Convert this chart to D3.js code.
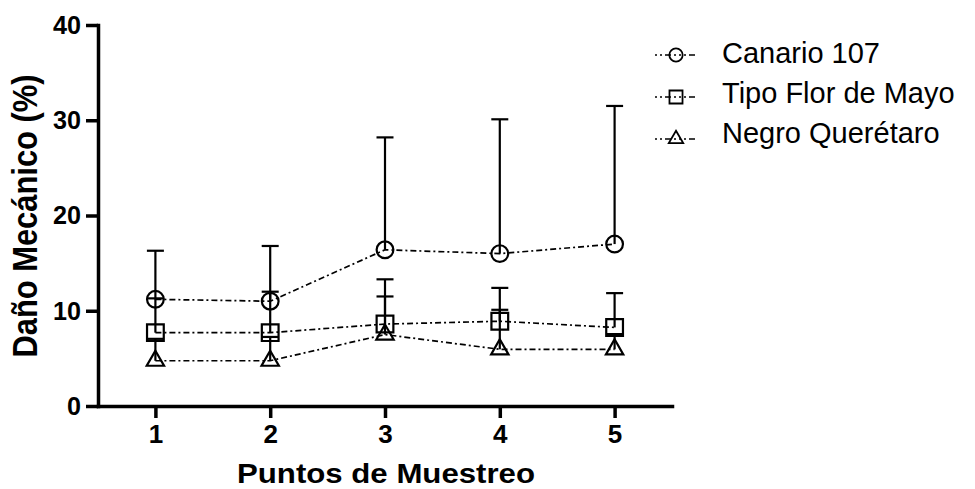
<!DOCTYPE html>
<html>
<head>
<meta charset="utf-8">
<script src="https://cdn.jsdelivr.net/npm/d3@7"></script>
<style>
  html, body { margin: 0; padding: 0; background: #fff; }
  svg { display: block; font-family: "Liberation Sans", Arial, sans-serif; }
</style>
</head>
<body>
<svg id="chart" width="975" height="489"></svg>
<script>
// ---- data ----
const points = [1, 2, 3, 4, 5];
const seriesNames = ["Canario 107", "Tipo Flor de Mayo", "Negro Querétaro"];
const canarioMean = [11.2, 11.0, 16.4, 16.0, 17.0];
const canarioErr  = [5.1, 5.8, 11.8, 14.1, 14.5];
const florMean    = [7.7, 7.7, 8.6, 8.9, 8.25];
const florErr     = [3.6, 4.3, 4.7, 3.5, 3.6];
const negroMean   = [4.75, 4.75, 7.5, 5.95, 5.95];
const negroErr    = [2.3, 2.5, 4.0, 4.15, 1.6];
const yTicks = [0, 10, 20, 30, 40];
const xTitle = "Puntos de Muestreo";
const yTitle = "Daño Mecánico (%)";

const series = [
  { name: seriesNames[0], mean: canarioMean, err: canarioErr, sym: d3.symbolCircle, size: 220, lsize: 140 },
  { name: seriesNames[1], mean: florMean, err: florErr, sym: d3.symbolSquare, size: 280, lsize: 170 },
  { name: seriesNames[2], mean: negroMean, err: negroErr, sym: d3.symbolTriangle, size: 130, lsize: 90 }
];

const svg = d3.select("#chart");
const x = d3.scaleLinear().domain([0.5, 5.5]).range([98, 672]);
const y = d3.scaleLinear().domain([0, 40]).range([406, 25]);

const dash = "6,3,2,3";

// ---- axes ----
const gy = svg.append("g").attr("transform", `translate(${x(0.5)},0)`)
  .call(d3.axisLeft(y).tickValues(yTicks).tickFormat(d3.format("d")).tickSize(12).tickSizeOuter(0).tickPadding(5));
const gx = svg.append("g").attr("transform", `translate(0,${y(0)})`)
  .call(d3.axisBottom(x).tickValues(points).tickFormat(d3.format("d")).tickSize(12).tickSizeOuter(0).tickPadding(7));
[gx, gy].forEach(g => {
  g.select(".domain").attr("stroke", "#000").attr("stroke-width", 3.5).attr("stroke-linecap", "square");
  g.selectAll(".tick line").attr("stroke", "#000").attr("stroke-width", 3.5);
  g.selectAll(".tick text").attr("fill", "#000").attr("font-size", 26).attr("font-weight", "bold")
    .attr("font-family", "'Liberation Sans', Arial, sans-serif");
});
gy.selectAll(".tick text").attr("textLength", d => d >= 10 ? 28 : 14).attr("lengthAdjust", "spacingAndGlyphs");

// axis titles
svg.append("text")
  .attr("x", 386).attr("y", 483)
  .attr("text-anchor", "middle")
  .attr("font-size", 28).attr("font-weight", "bold")
  .attr("textLength", 298).attr("lengthAdjust", "spacingAndGlyphs")
  .text(xTitle);
svg.append("text")
  .attr("transform", "translate(37,216) rotate(-90)")
  .attr("text-anchor", "middle")
  .attr("font-size", 35).attr("font-weight", "bold")
  .attr("textLength", 283).attr("lengthAdjust", "spacingAndGlyphs")
  .text(yTitle);

// ---- lines ----
const line = d3.line().x((d, i) => x(points[i])).y(d => y(d));
series.forEach(s => {
  svg.append("path").datum(s.mean)
    .attr("d", line).attr("fill", "none").attr("stroke", "#000")
    .attr("stroke-width", 1.7).attr("stroke-dasharray", dash);
});

// ---- error bars (upper only) ----
series.forEach(s => {
  const g = svg.append("g").attr("stroke", "#000").attr("stroke-width", 2.2);
  s.mean.forEach((m, i) => {
    const cx = x(points[i]);
    g.append("line").attr("x1", cx).attr("x2", cx).attr("y1", y(m)).attr("y2", y(m + s.err[i]));
    g.append("line").attr("x1", cx - 8.5).attr("x2", cx + 8.5).attr("y1", y(m + s.err[i])).attr("y2", y(m + s.err[i]));
  });
});

// ---- markers ----
series.forEach(s => {
  svg.append("g").selectAll("path").data(s.mean).join("path")
    .attr("transform", (d, i) => `translate(${x(points[i])},${y(d)})`)
    .attr("d", d3.symbol().type(s.sym).size(s.size))
    .attr("fill", "none").attr("stroke", "#000").attr("stroke-width", 2.2);
});

// ---- legend ----
const leg = svg.append("g");
series.forEach((s, i) => {
  const my = 55 + i * 42;
  leg.append("line").attr("x1", 655).attr("x2", 697).attr("y1", my).attr("y2", my)
    .attr("stroke", "#000").attr("stroke-width", 1.6).attr("stroke-dasharray", "2,3,2,3,6,3,2,3");
  leg.append("path").attr("transform", `translate(676,${my})`)
    .attr("d", d3.symbol().type(s.sym).size(s.lsize))
    .attr("fill", "none").attr("stroke", "#000").attr("stroke-width", 1.8);
  leg.append("text").attr("x", 722).attr("y", 63 + i * 40)
    .attr("font-size", 29).attr("fill", "#000")
    .text(s.name);
});
</script>
</body>
</html>
